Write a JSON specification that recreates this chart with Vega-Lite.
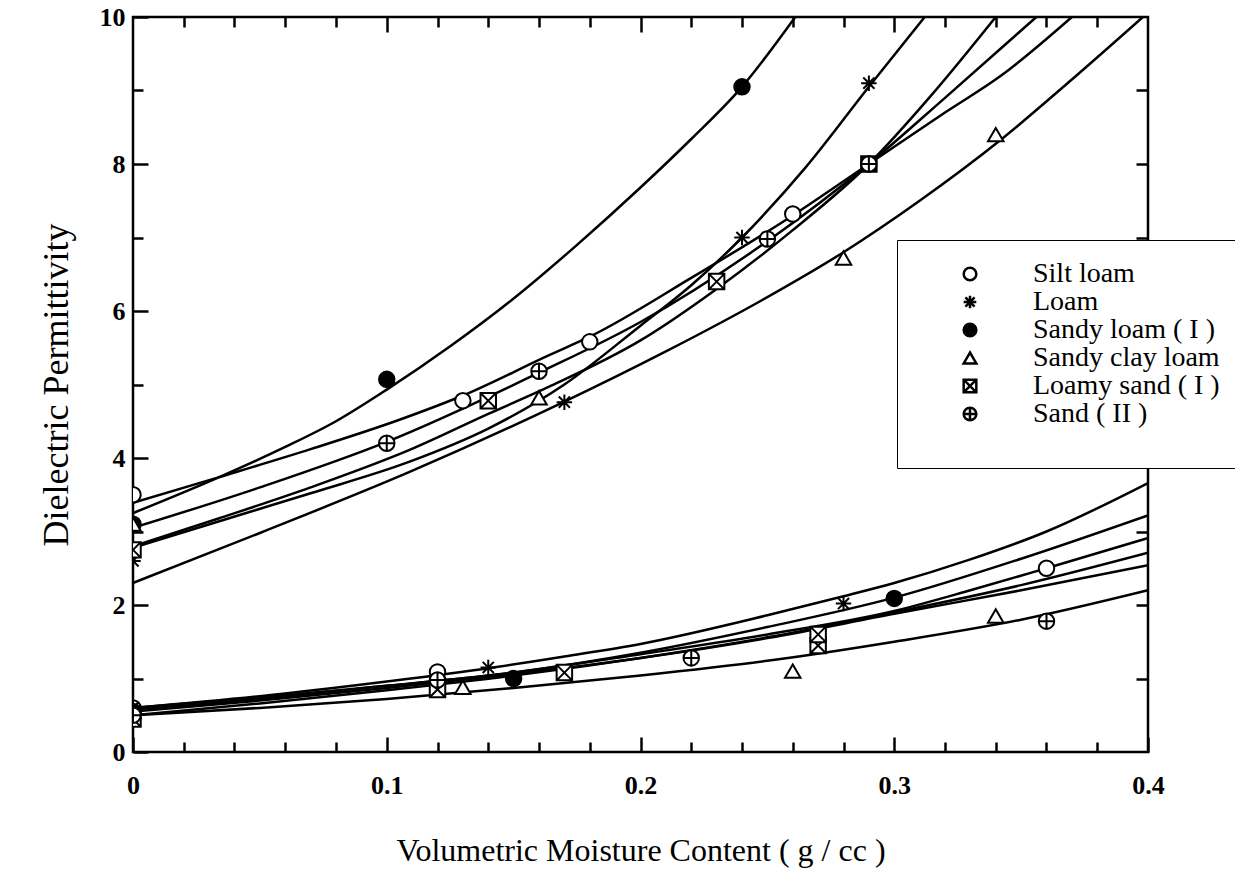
{
  "$schema": "https://vega.github.io/schema/vega-lite/v6.json",
  "width": 1015,
  "height": 735,
  "autosize": {"type": "none"},
  "padding": {"left": 133, "top": 17, "right": 87, "bottom": 142},
  "background": "white",
  "config": {
    "font": "Liberation Serif",
    "view": {"stroke": "black", "strokeWidth": 2.5},
    "axis": {
      "domain": false, "grid": false, "tickColor": "black", "tickWidth": 2.5,
      "labelFont": "Liberation Serif", "labelFontSize": 26, "labelFontWeight": "bold", "labelColor": "black",
      "titleFont": "Liberation Serif", "titleFontSize": 32, "titleFontWeight": "normal", "titleColor": "black",
      "labelFlush": false, "labelOverlap": false
    },
    "legend": {
      "orient": "none", "titleOrient": "bottom", "titleFontSize": 14, "titlePadding": 6,
      "fillColor": "white", "strokeColor": "black", "padding": 20, "rowPadding": 0,
      "symbolOffset": 39, "labelOffset": 49, "symbolSize": 160, "symbolStrokeWidth": 2.5,
      "labelFont": "Liberation Serif", "labelFontSize": 28, "labelColor": "black", "labelLimit": 400
    }
  },
  "datasets": {
    "curves": [
      {"soil": "Sandy loam ( I )", "part": "real", "x": 0, "y": 3.25},
      {"soil": "Sandy loam ( I )", "part": "real", "x": 0.034, "y": 3.74},
      {"soil": "Sandy loam ( I )", "part": "real", "x": 0.06, "y": 4.15},
      {"soil": "Sandy loam ( I )", "part": "real", "x": 0.08, "y": 4.5},
      {"soil": "Sandy loam ( I )", "part": "real", "x": 0.1, "y": 4.93},
      {"soil": "Sandy loam ( I )", "part": "real", "x": 0.125, "y": 5.52},
      {"soil": "Sandy loam ( I )", "part": "real", "x": 0.15, "y": 6.17},
      {"soil": "Sandy loam ( I )", "part": "real", "x": 0.175, "y": 6.9},
      {"soil": "Sandy loam ( I )", "part": "real", "x": 0.2, "y": 7.68},
      {"soil": "Sandy loam ( I )", "part": "real", "x": 0.22, "y": 8.34},
      {"soil": "Sandy loam ( I )", "part": "real", "x": 0.24, "y": 9.05},
      {"soil": "Sandy loam ( I )", "part": "real", "x": 0.261, "y": 10},
      {"soil": "Silt loam", "part": "real", "x": 0, "y": 3.39},
      {"soil": "Silt loam", "part": "real", "x": 0.034, "y": 3.74},
      {"soil": "Silt loam", "part": "real", "x": 0.07, "y": 4.12},
      {"soil": "Silt loam", "part": "real", "x": 0.105, "y": 4.52},
      {"soil": "Silt loam", "part": "real", "x": 0.13, "y": 4.85},
      {"soil": "Silt loam", "part": "real", "x": 0.164, "y": 5.4},
      {"soil": "Silt loam", "part": "real", "x": 0.18, "y": 5.65},
      {"soil": "Silt loam", "part": "real", "x": 0.22, "y": 6.45},
      {"soil": "Silt loam", "part": "real", "x": 0.26, "y": 7.3},
      {"soil": "Silt loam", "part": "real", "x": 0.29, "y": 8.0},
      {"soil": "Silt loam", "part": "real", "x": 0.32, "y": 8.7},
      {"soil": "Silt loam", "part": "real", "x": 0.342, "y": 9.2},
      {"soil": "Silt loam", "part": "real", "x": 0.37, "y": 10},
      {"soil": "Sand ( II )", "part": "real", "x": 0, "y": 3.05},
      {"soil": "Sand ( II )", "part": "real", "x": 0.05, "y": 3.6},
      {"soil": "Sand ( II )", "part": "real", "x": 0.1, "y": 4.22},
      {"soil": "Sand ( II )", "part": "real", "x": 0.16, "y": 5.16},
      {"soil": "Sand ( II )", "part": "real", "x": 0.2, "y": 5.85},
      {"soil": "Sand ( II )", "part": "real", "x": 0.25, "y": 6.95},
      {"soil": "Sand ( II )", "part": "real", "x": 0.29, "y": 8.0},
      {"soil": "Sand ( II )", "part": "real", "x": 0.32, "y": 8.9},
      {"soil": "Sand ( II )", "part": "real", "x": 0.356, "y": 10},
      {"soil": "Loamy sand ( I )", "part": "real", "x": 0, "y": 2.8},
      {"soil": "Loamy sand ( I )", "part": "real", "x": 0.034, "y": 3.18},
      {"soil": "Loamy sand ( I )", "part": "real", "x": 0.07, "y": 3.6},
      {"soil": "Loamy sand ( I )", "part": "real", "x": 0.109, "y": 4.11},
      {"soil": "Loamy sand ( I )", "part": "real", "x": 0.14, "y": 4.6},
      {"soil": "Loamy sand ( I )", "part": "real", "x": 0.164, "y": 4.97},
      {"soil": "Loamy sand ( I )", "part": "real", "x": 0.2, "y": 5.6},
      {"soil": "Loamy sand ( I )", "part": "real", "x": 0.23, "y": 6.3},
      {"soil": "Loamy sand ( I )", "part": "real", "x": 0.26, "y": 7.1},
      {"soil": "Loamy sand ( I )", "part": "real", "x": 0.29, "y": 8.0},
      {"soil": "Loamy sand ( I )", "part": "real", "x": 0.315, "y": 8.95},
      {"soil": "Loamy sand ( I )", "part": "real", "x": 0.34, "y": 10},
      {"soil": "Loam", "part": "real", "x": 0, "y": 2.78},
      {"soil": "Loam", "part": "real", "x": 0.034, "y": 3.14},
      {"soil": "Loam", "part": "real", "x": 0.07, "y": 3.52},
      {"soil": "Loam", "part": "real", "x": 0.109, "y": 3.95},
      {"soil": "Loam", "part": "real", "x": 0.14, "y": 4.4},
      {"soil": "Loam", "part": "real", "x": 0.17, "y": 5.0},
      {"soil": "Loam", "part": "real", "x": 0.2, "y": 5.8},
      {"soil": "Loam", "part": "real", "x": 0.22, "y": 6.35},
      {"soil": "Loam", "part": "real", "x": 0.24, "y": 7.0},
      {"soil": "Loam", "part": "real", "x": 0.265, "y": 7.95},
      {"soil": "Loam", "part": "real", "x": 0.29, "y": 9.05},
      {"soil": "Loam", "part": "real", "x": 0.312, "y": 10},
      {"soil": "Sandy clay loam", "part": "real", "x": 0, "y": 2.3},
      {"soil": "Sandy clay loam", "part": "real", "x": 0.05, "y": 2.98},
      {"soil": "Sandy clay loam", "part": "real", "x": 0.109, "y": 3.81},
      {"soil": "Sandy clay loam", "part": "real", "x": 0.169, "y": 4.75},
      {"soil": "Sandy clay loam", "part": "real", "x": 0.21, "y": 5.45},
      {"soil": "Sandy clay loam", "part": "real", "x": 0.248, "y": 6.15},
      {"soil": "Sandy clay loam", "part": "real", "x": 0.28, "y": 6.8},
      {"soil": "Sandy clay loam", "part": "real", "x": 0.31, "y": 7.5},
      {"soil": "Sandy clay loam", "part": "real", "x": 0.342, "y": 8.33},
      {"soil": "Sandy clay loam", "part": "real", "x": 0.37, "y": 9.15},
      {"soil": "Sandy clay loam", "part": "real", "x": 0.398, "y": 10},
      {"soil": "Loam", "part": "imag", "x": 0, "y": 0.6},
      {"soil": "Loam", "part": "imag", "x": 0.05, "y": 0.76},
      {"soil": "Loam", "part": "imag", "x": 0.1, "y": 0.96},
      {"soil": "Loam", "part": "imag", "x": 0.14, "y": 1.14},
      {"soil": "Loam", "part": "imag", "x": 0.17, "y": 1.3},
      {"soil": "Loam", "part": "imag", "x": 0.2, "y": 1.47},
      {"soil": "Loam", "part": "imag", "x": 0.25, "y": 1.86},
      {"soil": "Loam", "part": "imag", "x": 0.28, "y": 2.12},
      {"soil": "Loam", "part": "imag", "x": 0.3, "y": 2.3},
      {"soil": "Loam", "part": "imag", "x": 0.33, "y": 2.62},
      {"soil": "Loam", "part": "imag", "x": 0.36, "y": 3.0},
      {"soil": "Loam", "part": "imag", "x": 0.4, "y": 3.66},
      {"soil": "Sandy loam ( I )", "part": "imag", "x": 0, "y": 0.58},
      {"soil": "Sandy loam ( I )", "part": "imag", "x": 0.05, "y": 0.72},
      {"soil": "Sandy loam ( I )", "part": "imag", "x": 0.1, "y": 0.9},
      {"soil": "Sandy loam ( I )", "part": "imag", "x": 0.15, "y": 1.08},
      {"soil": "Sandy loam ( I )", "part": "imag", "x": 0.2, "y": 1.35},
      {"soil": "Sandy loam ( I )", "part": "imag", "x": 0.25, "y": 1.7},
      {"soil": "Sandy loam ( I )", "part": "imag", "x": 0.3, "y": 2.1},
      {"soil": "Sandy loam ( I )", "part": "imag", "x": 0.35, "y": 2.63},
      {"soil": "Sandy loam ( I )", "part": "imag", "x": 0.4, "y": 3.22},
      {"soil": "Silt loam", "part": "imag", "x": 0, "y": 0.6},
      {"soil": "Silt loam", "part": "imag", "x": 0.05, "y": 0.74},
      {"soil": "Silt loam", "part": "imag", "x": 0.1, "y": 0.9},
      {"soil": "Silt loam", "part": "imag", "x": 0.15, "y": 1.08},
      {"soil": "Silt loam", "part": "imag", "x": 0.2, "y": 1.33},
      {"soil": "Silt loam", "part": "imag", "x": 0.25, "y": 1.6},
      {"soil": "Silt loam", "part": "imag", "x": 0.3, "y": 1.92},
      {"soil": "Silt loam", "part": "imag", "x": 0.33, "y": 2.2},
      {"soil": "Silt loam", "part": "imag", "x": 0.36, "y": 2.5},
      {"soil": "Silt loam", "part": "imag", "x": 0.4, "y": 2.91},
      {"soil": "Loamy sand ( I )", "part": "imag", "x": 0, "y": 0.5},
      {"soil": "Loamy sand ( I )", "part": "imag", "x": 0.05, "y": 0.66},
      {"soil": "Loamy sand ( I )", "part": "imag", "x": 0.1, "y": 0.84},
      {"soil": "Loamy sand ( I )", "part": "imag", "x": 0.15, "y": 1.04},
      {"soil": "Loamy sand ( I )", "part": "imag", "x": 0.2, "y": 1.28},
      {"soil": "Loamy sand ( I )", "part": "imag", "x": 0.25, "y": 1.56},
      {"soil": "Loamy sand ( I )", "part": "imag", "x": 0.3, "y": 1.9},
      {"soil": "Loamy sand ( I )", "part": "imag", "x": 0.35, "y": 2.27},
      {"soil": "Loamy sand ( I )", "part": "imag", "x": 0.4, "y": 2.71},
      {"soil": "Sandy clay loam", "part": "imag", "x": 0, "y": 0.55},
      {"soil": "Sandy clay loam", "part": "imag", "x": 0.05, "y": 0.7},
      {"soil": "Sandy clay loam", "part": "imag", "x": 0.1, "y": 0.87},
      {"soil": "Sandy clay loam", "part": "imag", "x": 0.15, "y": 1.06},
      {"soil": "Sandy clay loam", "part": "imag", "x": 0.2, "y": 1.28},
      {"soil": "Sandy clay loam", "part": "imag", "x": 0.25, "y": 1.55},
      {"soil": "Sandy clay loam", "part": "imag", "x": 0.3, "y": 1.88},
      {"soil": "Sandy clay loam", "part": "imag", "x": 0.35, "y": 2.2},
      {"soil": "Sandy clay loam", "part": "imag", "x": 0.4, "y": 2.54},
      {"soil": "Sand ( II )", "part": "imag", "x": 0, "y": 0.5},
      {"soil": "Sand ( II )", "part": "imag", "x": 0.05, "y": 0.6},
      {"soil": "Sand ( II )", "part": "imag", "x": 0.1, "y": 0.72},
      {"soil": "Sand ( II )", "part": "imag", "x": 0.15, "y": 0.87},
      {"soil": "Sand ( II )", "part": "imag", "x": 0.2, "y": 1.04},
      {"soil": "Sand ( II )", "part": "imag", "x": 0.25, "y": 1.24},
      {"soil": "Sand ( II )", "part": "imag", "x": 0.3, "y": 1.5},
      {"soil": "Sand ( II )", "part": "imag", "x": 0.35, "y": 1.8},
      {"soil": "Sand ( II )", "part": "imag", "x": 0.4, "y": 2.2}
    ],
    "points": [
      {"soil": "Silt loam", "x": 0, "y": 3.5},
      {"soil": "Silt loam", "x": 0.13, "y": 4.78},
      {"soil": "Silt loam", "x": 0.18, "y": 5.58},
      {"soil": "Silt loam", "x": 0.26, "y": 7.32},
      {"soil": "Silt loam", "x": 0, "y": 0.6},
      {"soil": "Silt loam", "x": 0.12, "y": 1.09},
      {"soil": "Silt loam", "x": 0.36, "y": 2.5},
      {"soil": "Loam", "x": 0, "y": 2.6},
      {"soil": "Loam", "x": 0.17, "y": 4.76},
      {"soil": "Loam", "x": 0.24, "y": 7.0},
      {"soil": "Loam", "x": 0.29, "y": 9.1},
      {"soil": "Loam", "x": 0, "y": 0.6},
      {"soil": "Loam", "x": 0.14, "y": 1.15},
      {"soil": "Loam", "x": 0.28, "y": 2.02},
      {"soil": "Sandy loam ( I )", "x": 0, "y": 3.1},
      {"soil": "Sandy loam ( I )", "x": 0.1, "y": 5.07},
      {"soil": "Sandy loam ( I )", "x": 0.24, "y": 9.05},
      {"soil": "Sandy loam ( I )", "x": 0, "y": 0.55},
      {"soil": "Sandy loam ( I )", "x": 0.15, "y": 1.0},
      {"soil": "Sandy loam ( I )", "x": 0.3, "y": 2.09},
      {"soil": "Sandy clay loam", "x": 0, "y": 3.1},
      {"soil": "Sandy clay loam", "x": 0.16, "y": 4.82},
      {"soil": "Sandy clay loam", "x": 0.28, "y": 6.72},
      {"soil": "Sandy clay loam", "x": 0.34, "y": 8.4},
      {"soil": "Sandy clay loam", "x": 0, "y": 0.55},
      {"soil": "Sandy clay loam", "x": 0.13, "y": 0.88},
      {"soil": "Sandy clay loam", "x": 0.26, "y": 1.1},
      {"soil": "Sandy clay loam", "x": 0.34, "y": 1.85},
      {"soil": "Loamy sand ( I )", "x": 0, "y": 2.75},
      {"soil": "Loamy sand ( I )", "x": 0.14, "y": 4.78},
      {"soil": "Loamy sand ( I )", "x": 0.23, "y": 6.4},
      {"soil": "Loamy sand ( I )", "x": 0.29, "y": 8.0},
      {"soil": "Loamy sand ( I )", "x": 0, "y": 0.45},
      {"soil": "Loamy sand ( I )", "x": 0.12, "y": 0.85},
      {"soil": "Loamy sand ( I )", "x": 0.17, "y": 1.08},
      {"soil": "Loamy sand ( I )", "x": 0.27, "y": 1.45},
      {"soil": "Loamy sand ( I )", "x": 0.27, "y": 1.6},
      {"soil": "Sand ( II )", "x": 0.1, "y": 4.2},
      {"soil": "Sand ( II )", "x": 0.16, "y": 5.18},
      {"soil": "Sand ( II )", "x": 0.25, "y": 6.98},
      {"soil": "Sand ( II )", "x": 0.29, "y": 8.0},
      {"soil": "Sand ( II )", "x": 0, "y": 0.5},
      {"soil": "Sand ( II )", "x": 0.12, "y": 0.98},
      {"soil": "Sand ( II )", "x": 0.22, "y": 1.28},
      {"soil": "Sand ( II )", "x": 0.36, "y": 1.78}
    ]
  },
  "resolve": {"axis": {"x": "independent", "y": "independent"}},
  "layer": [
    {
      "data": {"name": "curves"},
      "mark": {"type": "line", "interpolate": "monotone", "color": "black", "strokeWidth": 2.5, "clip": true},
      "encoding": {
        "x": {"field": "x", "type": "quantitative", "scale": {"domain": [0, 0.4], "nice": false, "zero": false},
          "axis": {"orient": "bottom", "values": [0, 0.1, 0.2, 0.3, 0.4], "format": "~g", "tickSize": -15, "labelPadding": 35,
            "title": "Volumetric Moisture Content ( g / cc )", "titleY": 98, "titleBaseline": "middle"}},
        "y": {"field": "y", "type": "quantitative", "scale": {"domain": [0, 10], "nice": false, "zero": false},
          "axis": {"orient": "left", "values": [0, 2, 4, 6, 8, 10], "format": "d", "tickSize": -15, "labelPadding": 23,
            "title": "Dielectric Permittivity", "titleX": -77, "titleBaseline": "middle", "titleFontSize": 36}},
        "detail": [{"field": "soil"}, {"field": "part"}]
      }
    },
    {
      "data": {"name": "points"},
      "mark": {"type": "point", "filled": true, "strokeWidth": 2, "size": 240, "opacity": 1, "clip": true},
      "encoding": {
        "x": {"field": "x", "type": "quantitative",
          "axis": {"orient": "bottom", "values": [0.02, 0.04, 0.06, 0.08, 0.12, 0.14, 0.16, 0.18, 0.22, 0.24, 0.26, 0.28, 0.32, 0.34, 0.36, 0.38], "tickSize": -10, "labels": false, "title": null}},
        "y": {"field": "y", "type": "quantitative",
          "axis": {"orient": "left", "values": [1, 3, 5, 7, 9], "tickSize": -10, "labels": false, "title": null}},
        "shape": {"field": "soil", "type": "nominal",
          "scale": {"domain": ["Silt loam", "Loam", "Sandy loam ( I )", "Sandy clay loam", "Loamy sand ( I )", "Sand ( II )"],
            "range": ["circle", "M-1,0L1,0M0,-1L0,1M-0.72,-0.72L0.72,0.72M-0.72,0.72L0.72,-0.72", "circle", "triangle-up", "M-1,-1L1,-1L1,1L-1,1ZM-1,-1L1,1M-1,1L1,-1", "M-1,0A1,1,0,1,0,1,0A1,1,0,1,0,-1,0ZM-1,0L1,0M0,-1L0,1"]},
          "legend": {"title": " ", "legendX": 764, "legendY": 223}},
        "fill": {"field": "soil", "type": "nominal",
          "scale": {"domain": ["Silt loam", "Loam", "Sandy loam ( I )", "Sandy clay loam", "Loamy sand ( I )", "Sand ( II )"],
            "range": ["white", "white", "black", "white", "white", "white"]},
          "legend": {"title": " ", "legendX": 764, "legendY": 223}},
        "stroke": {"field": "soil", "type": "nominal",
          "scale": {"domain": ["Silt loam", "Loam", "Sandy loam ( I )", "Sandy clay loam", "Loamy sand ( I )", "Sand ( II )"],
            "range": ["black", "black", "black", "black", "black", "black"]},
          "legend": {"title": " ", "legendX": 764, "legendY": 223}}
      }
    },
    {
      "data": {"name": "points"},
      "mark": {"type": "point", "opacity": 0},
      "encoding": {
        "x": {"field": "x", "type": "quantitative",
          "axis": {"orient": "top", "values": [0.02, 0.04, 0.06, 0.08, 0.12, 0.14, 0.16, 0.18, 0.22, 0.24, 0.26, 0.28, 0.32, 0.34, 0.36, 0.38], "tickSize": -10, "labels": false, "title": null}},
        "y": {"field": "y", "type": "quantitative",
          "axis": {"orient": "right", "values": [1, 2, 3, 4, 5, 6, 7, 8, 9], "tickSize": -12, "labels": false, "title": null}}
      }
    },
    {
      "data": {"name": "points"},
      "mark": {"type": "point", "opacity": 0},
      "encoding": {
        "x": {"field": "x", "type": "quantitative",
          "axis": {"orient": "top", "values": [0.1, 0.2, 0.3], "tickSize": -15, "labels": false, "title": null}},
        "y": {"field": "y", "type": "quantitative", "axis": null}
      }
    }
  ]
}
